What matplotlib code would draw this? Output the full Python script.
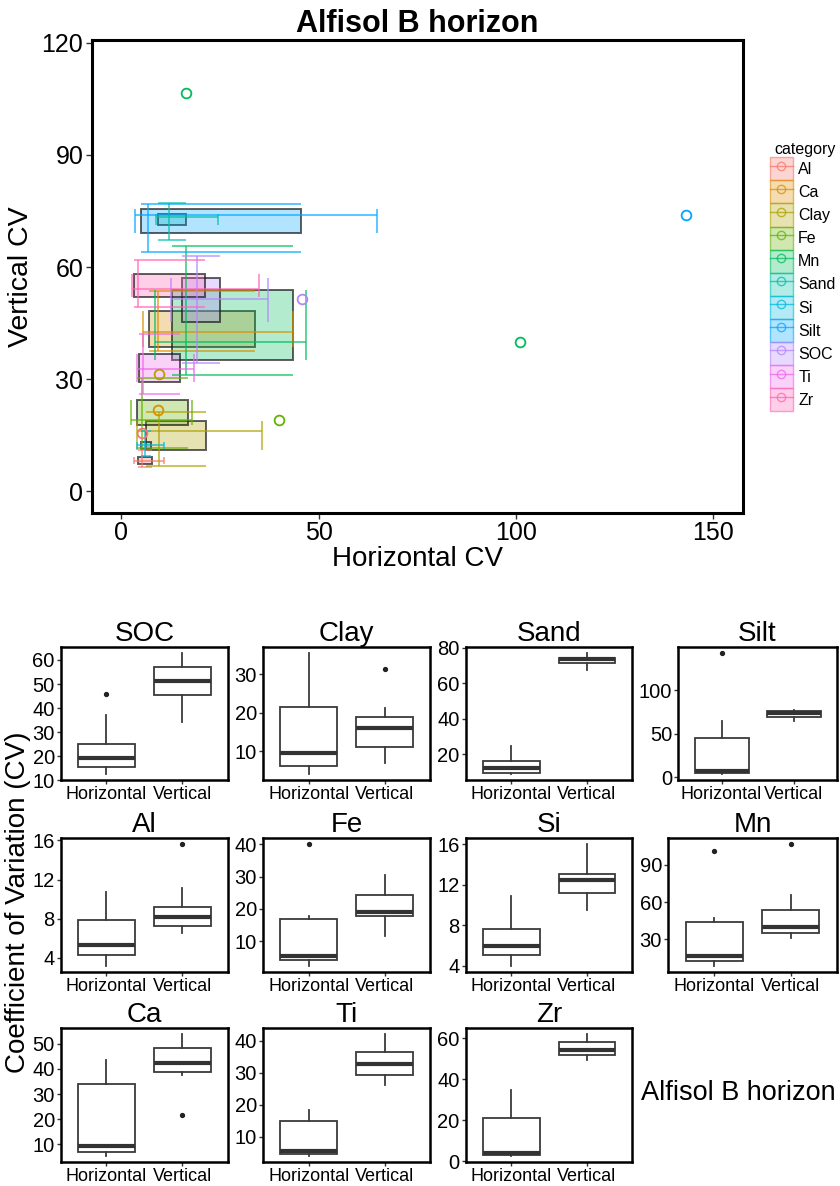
import matplotlib
matplotlib.use("Agg")
import matplotlib.pyplot as plt
from matplotlib.patches import Rectangle, Patch
from matplotlib.lines import Line2D
from matplotlib.colors import to_rgba

plt.rcParams['font.family'] = ['Liberation Sans', 'DejaVu Sans']

# ---------------- data ----------------
categories = ["Al", "Ca", "Clay", "Fe", "Mn", "Sand", "Si", "Silt", "SOC", "Ti", "Zr"]
colors = ["#F8766D", "#DB8E00", "#AEA200", "#64B200", "#00BD5C", "#00C1A7",
          "#00BADE", "#00A6FF", "#B385FF", "#EF67EB", "#FF63B6"]

# Horizontal CV boxplot statistics (whisker low, Q1, median, Q3, whisker high, outliers)
h_wlo = [3.2, 5.5, 4.0, 2.4, 8.6, 8.8, 4.0, 3.5, 12.5, 4.0, 2.7]
h_q1 = [4.3, 7.0, 6.2, 4.1, 12.8, 9.3, 5.1, 5.0, 15.4, 4.6, 3.1]
h_med = [5.3, 9.3, 9.5, 5.3, 16.4, 12.2, 6.0, 6.8, 19.2, 5.4, 4.2]
h_q3 = [7.9, 33.8, 21.4, 16.9, 43.6, 16.4, 7.6, 45.5, 25.0, 14.8, 21.3]
h_whi = [10.7, 43.6, 35.6, 17.8, 46.8, 24.6, 10.9, 64.8, 37.1, 18.3, 34.8]
h_out = [[], [], [], [40.0], [101.0], [], [], [143.0], [45.9], [], []]

# Vertical CV boxplot statistics
v_wlo = [6.5, 37.5, 6.8, 11.5, 31.0, 67.3, 9.5, 64.0, 34.4, 26.0, 49.4]
v_q1 = [7.3, 38.7, 11.1, 17.7, 35.2, 71.3, 11.2, 69.0, 45.3, 29.3, 52.0]
v_med = [8.2, 42.5, 16.0, 19.1, 39.8, 73.4, 12.5, 74.0, 51.4, 32.7, 54.2]
v_q3 = [9.2, 48.3, 18.9, 24.4, 53.8, 74.3, 13.1, 75.6, 57.0, 36.6, 58.1]
v_whi = [11.1, 53.7, 21.3, 30.4, 65.5, 77.1, 16.0, 76.8, 63.0, 42.0, 62.0]
v_out = [[15.6], [21.8], [31.3], [], [106.5], [], [], [], [], [], []]

top_xticks = [0, 50, 100, 150]
top_yticks = [0, 30, 60, 90, 120]

panel_order = ["SOC", "Clay", "Sand", "Silt", "Al", "Fe", "Si", "Mn", "Ca", "Ti", "Zr"]
panel_yticks = {
    "SOC": [10, 20, 30, 40, 50, 60], "Clay": [10, 20, 30], "Sand": [20, 40, 60, 80],
    "Silt": [0, 50, 100], "Al": [4, 8, 12, 16], "Fe": [10, 20, 30, 40],
    "Si": [4, 8, 12, 16], "Mn": [30, 60, 90], "Ca": [10, 20, 30, 40, 50],
    "Ti": [10, 20, 30, 40], "Zr": [0, 20, 40, 60],
}
group_labels = ["Horizontal", "Vertical"]

# ---------------- figure ----------------
W, H = 840, 1186
fig = plt.figure(figsize=(W / 100, H / 100), dpi=100)
fig.patch.set_facecolor("white")


def fbox(l, t, r, b):
    return [l / W, 1 - b / H, (r - l) / W, (b - t) / H]


# ---- top scatter/rect chart ----
ax = fig.add_axes(fbox(91.7, 40, 743, 512.7))
for i, cat in enumerate(categories):
    col = colors[i]
    ax.add_patch(Rectangle((h_q1[i], v_q1[i]), h_q3[i] - h_q1[i], v_q3[i] - v_q1[i],
                           facecolor=to_rgba(col, 0.3), edgecolor=(0.1, 0.1, 0.1, 0.7),
                           linewidth=1.4, zorder=2))
for i, cat in enumerate(categories):
    col = colors[i]
    lkw = dict(color=col, alpha=0.75, linewidth=1.2, zorder=3)
    # vertical error bar at horizontal median
    ax.vlines(h_med[i], v_wlo[i], v_whi[i], **lkw)
    ax.hlines([v_wlo[i], v_whi[i]], h_q1[i], h_q3[i], **lkw)
    # horizontal error bar at vertical median
    ax.hlines(v_med[i], h_wlo[i], h_whi[i], **lkw)
    ax.vlines([h_wlo[i], h_whi[i]], v_q1[i], v_q3[i], **lkw)
    # outliers
    if h_out[i]:
        ax.plot(h_out[i], [v_med[i]] * len(h_out[i]), 'o', mfc='none', mec=col,
                ms=7, mew=1.3, zorder=4)
    if v_out[i]:
        ax.plot([h_med[i]] * len(v_out[i]), v_out[i], 'o', mfc='none', mec=col,
                ms=7, mew=1.3, zorder=4)

ax.set_xlim(-7.5, 157.5)
ax.set_ylim(-5.75, 120.75)
ax.set_xticks(top_xticks)
ax.set_yticks(top_yticks)
ax.tick_params(labelsize=18, length=4, width=1, pad=2, color="#333333")
for s in ax.spines.values():
    s.set_linewidth(2.2)
    s.set_color("black")
ax.set_xlabel("Horizontal CV", fontsize=20)
ax.set_ylabel("Vertical CV", fontsize=20.5)
ax.xaxis.set_label_coords(0.5, -0.07)
ax.yaxis.set_label_coords(-0.088, 0.5)
ax.set_title("Alfisol B horizon", fontsize=22, fontweight="bold", pad=6)

handles = []
for i, cat in enumerate(categories):
    col = colors[i]
    p = Patch(facecolor=to_rgba(col, 0.3), edgecolor=to_rgba(col, 0.6), linewidth=1.0)
    ln = Line2D([], [], color=col, alpha=0.75, lw=1.0, marker='o', mfc='none',
                mec=col, ms=6, mew=1.0)
    handles.append((p, ln))
leg = fig.legend(handles, categories, loc="upper left",
                 bbox_to_anchor=(759 / W, 1 - 131 / H), frameon=False,
                 title="category", fontsize=11.5, title_fontsize=11.5,
                 handlelength=1.4, handleheight=1.85, labelspacing=0.0,
                 handletextpad=0.35, borderpad=0.2, numpoints=1,
                 alignment="right")

# ---- boxplot grid ----
col_left = [61, 263.3, 466, 668.3]
col_right = [227.7, 430, 632.3, 836.7]
row_top = [646.7, 838.3, 1028.3]
panel_h = 133.5

for k, name in enumerate(panel_order):
    r, c = divmod(k, 4)
    i = categories.index(name)
    left = col_left[c]
    if max(panel_yticks[name]) >= 100:
        left += 10
    bx = fig.add_axes(fbox(left, row_top[r], col_right[c], row_top[r] + panel_h))
    stats = [
        dict(whislo=h_wlo[i], q1=h_q1[i], med=h_med[i], q3=h_q3[i], whishi=h_whi[i],
             fliers=h_out[i], label=group_labels[0]),
        dict(whislo=v_wlo[i], q1=v_q1[i], med=v_med[i], q3=v_q3[i], whishi=v_whi[i],
             fliers=v_out[i], label=group_labels[1]),
    ]
    bx.bxp(stats, positions=[1, 2], widths=0.75, showcaps=False, patch_artist=True,
           boxprops=dict(facecolor="white", edgecolor="#3a3a3a", linewidth=1.3),
           medianprops=dict(color="#333333", linewidth=3.0),
           whiskerprops=dict(color="#3a3a3a", linewidth=1.3),
           flierprops=dict(marker='o', markerfacecolor="#222222",
                           markeredgecolor="#222222", markersize=2.8))
    bx.set_xlim(0.4, 2.6)
    bx.margins(y=0.05)
    bx.autoscale(axis='y')
    bx.set_yticks(panel_yticks[name])
    bx.set_xticks([1, 2])
    bx.set_xticklabels(group_labels)
    bx.tick_params(axis='x', labelsize=13, length=3, width=1, pad=1.5, color="#333333")
    bx.tick_params(axis='y', labelsize=14.5, length=3, width=1, pad=1.5, color="#333333")
    for s in bx.spines.values():
        s.set_linewidth(1.8)
        s.set_color("black")
    bx.set_title(name, fontsize=20, pad=2)

fig.text(18 / W, 1 - 902 / H, "Coefficient of Variation (CV)", rotation=90,
         fontsize=20, ha="center", va="center")
fig.text(738 / W, 1 - 1093 / H, "Alfisol B horizon", fontsize=19.5,
         ha="center", va="center")

fig.savefig("out.png", dpi=100, facecolor="white")
